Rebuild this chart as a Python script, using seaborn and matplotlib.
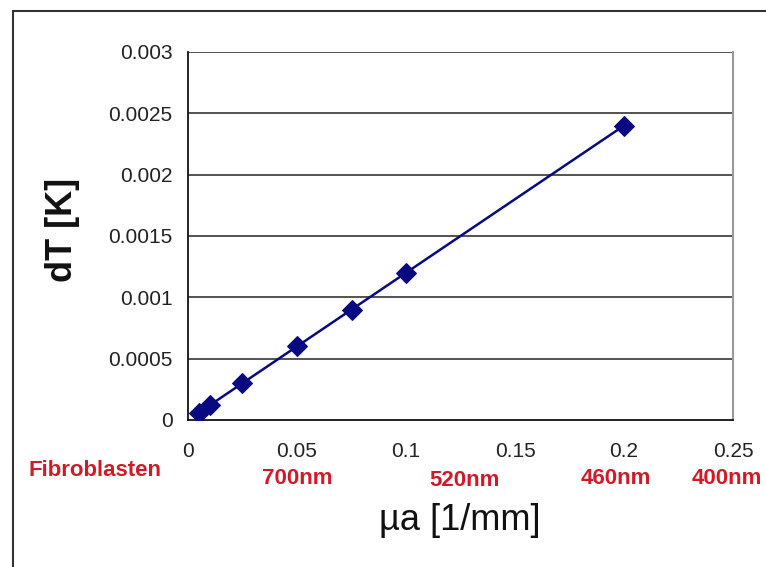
import numpy as np
import pandas as pd
import seaborn as sns
import matplotlib.pyplot as plt
from matplotlib.patches import Rectangle

# data
mua = [0.005, 0.01, 0.025, 0.05, 0.075, 0.1, 0.2]
dT = [0.00006, 0.00012, 0.0003, 0.0006, 0.0009, 0.0012, 0.0024]

x_ticks = [0, 0.05, 0.1, 0.15, 0.2, 0.25]
x_tick_labels = ["0", "0.05", "0.1", "0.15", "0.2", "0.25"]
y_ticks = [0, 0.0005, 0.001, 0.0015, 0.002, 0.0025, 0.003]
y_tick_labels = ["0", "0.0005", "0.001", "0.0015", "0.002", "0.0025", "0.003"]

# red annotations under the x axis (label, x in data units, y in data units)
wl_labels = ["Fibroblasten", "700nm", "520nm", "460nm", "400nm"]
wl_x = [-0.0427, 0.05, 0.127, 0.1963, 0.2472]
wl_y = [-0.00041, -0.000475, -0.00049, -0.000475, -0.000475]

df = pd.DataFrame({"mua": mua, "dT": dT})

sns.set_style("white")
plt.rcParams["font.family"] = ["Liberation Sans", "DejaVu Sans"]

fig = plt.figure(figsize=(7.66, 5.67), dpi=100)
ax = fig.add_axes([0.2454, 0.2593, 0.7116, 0.649])

# outer chart frame (only left and top edges are visible)
fig.add_artist(Rectangle((13 / 766, -0.05), 1.2, (567 - 11) / 567 + 0.05,
                         transform=fig.transFigure, fill=False,
                         edgecolor="#333333", linewidth=1.5))

for yv in y_ticks[1:]:
    ax.axhline(yv, color="#444444", linewidth=1.3, zorder=1)

sns.lineplot(data=df, x="mua", y="dT", ax=ax, color="#0a0a80",
             linewidth=1.8, marker="D", markersize=10,
             markeredgecolor="#0a0a80", zorder=3)

ax.set_xlim(0, 0.25)
ax.set_ylim(0, 0.003)
ax.set_xticks(x_ticks)
ax.set_xticklabels(x_tick_labels)
ax.set_yticks(y_ticks)
ax.set_yticklabels(y_tick_labels)
ax.tick_params(axis="both", direction="out", length=6, width=1.2,
               labelsize=15, colors="#111111", labelcolor="#222222")
ax.tick_params(axis="x", pad=10)
ax.tick_params(axis="y", pad=5)

ax.spines["top"].set_visible(False)
ax.spines["left"].set_color("#111111")
ax.spines["left"].set_linewidth(1.3)
ax.spines["bottom"].set_color("#111111")
ax.spines["bottom"].set_linewidth(1.3)
ax.spines["right"].set_color("#999999")
ax.spines["right"].set_linewidth(1.5)

ax.set_xlabel("µa [1/mm]", fontsize=26, color="#111111")
ax.xaxis.set_label_coords(0.499, -0.274)
ax.xaxis.label.set_va("center")
ax.set_ylabel("dT [K]", fontsize=26, fontweight="bold", color="#111111")
ax.yaxis.set_label_coords(-0.231, 0.516)
ax.yaxis.label.set_va("center")

red = "#d01a28"
for lab, xv, yv in zip(wl_labels, wl_x, wl_y):
    ax.text(xv, yv, lab, color=red, fontsize=16, fontweight="bold",
            ha="center", va="center", clip_on=False)

fig.savefig("out.png", dpi=100)
